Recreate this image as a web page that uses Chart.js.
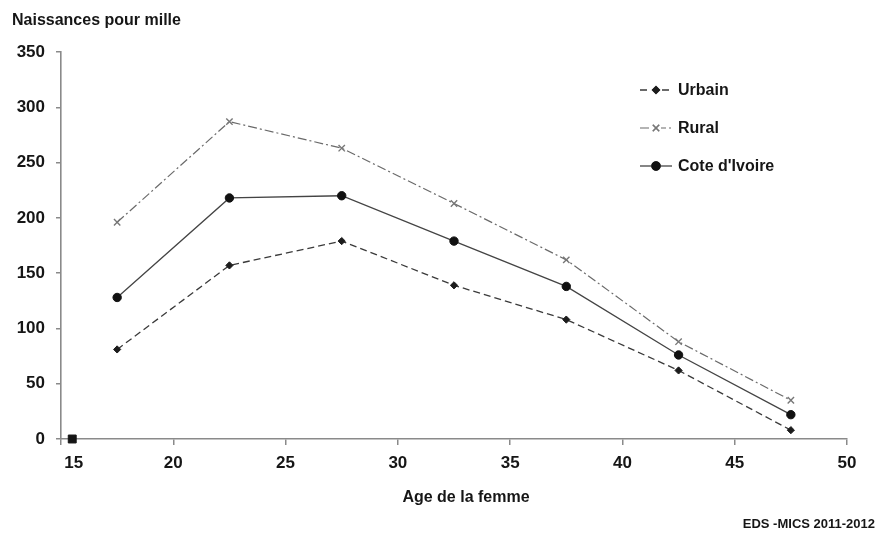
<!DOCTYPE html>
<html lang="fr">
<head>
<meta charset="utf-8">
<title>Naissances pour mille selon l'âge de la femme</title>
<script src="https://cdn.jsdelivr.net/npm/chart.js@4.4.1/dist/chart.umd.min.js"></script>
<style>
  html, body { margin: 0; padding: 0; background: #ffffff; }
  #wrap { width: 877px; height: 535px; position: relative; }
</style>
</head>
<body>
<div id="wrap"><canvas id="chart"></canvas></div>
<script>
// Age-group midpoints (15-19, 20-24, ... 45-49)
const ageMidpoints = [17.5, 22.5, 27.5, 32.5, 37.5, 42.5, 47.5];

// Age-specific fertility rates, births per 1000 women
const urbain      = [81, 157, 179, 139, 108, 62, 8];
const rural       = [196, 287, 263, 213, 162, 88, 35];
const coteIvoire  = [128, 218, 220, 179, 138, 76, 22];

// Lone square marker sitting on the x axis
const markerX = [15.5];
const markerY = [0];

// Axis settings
const xTickValues = [15, 20, 25, 30, 35, 40, 45, 50];
const yTickValues = [0, 50, 100, 150, 200, 250, 300, 350];

const seriesLabels = ['Urbain', 'Rural', "Cote d'Ivoire"];
const chartTitle = 'Naissances pour mille';
const xAxisTitle = 'Age de la femme';
const sourceNote = 'EDS -MICS 2011-2012';

const TEXT = '#161616';
const AXIS = '#8a8a8a';
const FONT = '"Liberation Sans", Arial, sans-serif';

const toPoints = (xs, ys) => xs.map((x, i) => ({ x: x, y: ys[i] }));

// Text around the plot and the legend box
const annotations = {
  id: 'annotations',
  afterDraw(chart) {
    const ctx = chart.ctx;
    ctx.save();
    ctx.fillStyle = TEXT;
    ctx.textBaseline = 'middle';

    ctx.font = 'bold 16px ' + FONT;
    ctx.textAlign = 'left';
    ctx.fillText(chartTitle, 12, 21);

    ctx.textAlign = 'center';
    ctx.fillText(xAxisTitle, 466, 498);

    ctx.font = 'bold 13px ' + FONT;
    ctx.textAlign = 'right';
    ctx.fillText(sourceNote, 875, 524);

    // legend
    const rows = [90, 128, 166];
    const x0 = 640, x1 = 672, xm = 656, xt = 678;
    chart.data.datasets.slice(0, 3).forEach((ds, i) => {
      const y = rows[i];
      ctx.save();
      ctx.strokeStyle = ds.borderColor;
      ctx.lineWidth = ds.borderWidth;
      ctx.setLineDash(ds.borderDash || []);
      ctx.beginPath();
      ctx.moveTo(x0, y);
      ctx.lineTo(x1, y);
      ctx.stroke();
      ctx.setLineDash([]);
      ctx.fillStyle = '#ffffff';
      ctx.fillRect(xm - 5, y - 5, 10, 10);
      Chart.helpers.drawPoint(ctx, {
        pointStyle: ds.pointStyle,
        radius: ds.pointRadius,
        borderWidth: ds.pointBorderWidth
      }, xm, y);
      ctx.fillStyle = ds.pointBackgroundColor;
      ctx.strokeStyle = ds.pointBorderColor;
      ctx.lineWidth = ds.pointBorderWidth;
      Chart.helpers.drawPoint(ctx, {
        pointStyle: ds.pointStyle,
        radius: ds.pointRadius,
        borderWidth: ds.pointBorderWidth
      }, xm, y);
      ctx.fill();
      ctx.restore();
      ctx.font = 'bold 16px ' + FONT;
      ctx.fillStyle = TEXT;
      ctx.textAlign = 'left';
      ctx.fillText(seriesLabels[i], xt, y + 1);
    });
    ctx.restore();
  }
};

new Chart(document.getElementById('chart'), {
  type: 'line',
  data: {
    datasets: [
      {
        label: seriesLabels[0],
        data: toPoints(ageMidpoints, urbain),
        borderColor: '#3a3a3a',
        borderWidth: 1.3,
        borderDash: [7, 4],
        pointStyle: 'rectRot',
        pointRadius: 3.6,
        pointBackgroundColor: '#1c1c1c',
        pointBorderColor: '#1c1c1c',
        pointBorderWidth: 1,
        tension: 0,
        clip: false
      },
      {
        label: seriesLabels[1],
        data: toPoints(ageMidpoints, rural),
        borderColor: '#6a6a6a',
        borderWidth: 1.2,
        borderDash: [9, 3, 2, 3],
        pointStyle: 'crossRot',
        pointRadius: 4.5,
        pointBackgroundColor: '#777777',
        pointBorderColor: '#777777',
        pointBorderWidth: 1.4,
        tension: 0,
        clip: false
      },
      {
        label: seriesLabels[2],
        data: toPoints(ageMidpoints, coteIvoire),
        borderColor: '#444444',
        borderWidth: 1.3,
        pointStyle: 'circle',
        pointRadius: 4.2,
        pointBackgroundColor: '#111111',
        pointBorderColor: '#111111',
        pointBorderWidth: 1,
        tension: 0,
        clip: false
      },
      {
        label: 'repère',
        data: toPoints(markerX, markerY),
        showLine: false,
        pointStyle: 'rect',
        pointRadius: 5.6,
        pointBackgroundColor: '#151515',
        pointBorderColor: '#151515',
        pointBorderWidth: 1,
        clip: false
      }
    ]
  },
  options: {
    responsive: true,
    maintainAspectRatio: false,
    animation: false,
    layout: { padding: { top: 52, right: 30, left: 0, bottom: 0 } },
    plugins: {
      legend: { display: false },
      tooltip: { enabled: false },
      title: { display: false }
    },
    scales: {
      x: {
        type: 'linear',
        min: xTickValues[0],
        max: xTickValues[xTickValues.length - 1],
        afterBuildTicks: (scale) => { scale.ticks = xTickValues.map(v => ({ value: v })); },
        afterFit: (scale) => { scale.height = 96; },
        ticks: {
          color: TEXT,
          font: { family: FONT, size: 17, weight: 'bold' },
          padding: 8,
          maxRotation: 0,
          autoSkip: false,
          // first label sits just right of the vertical axis
          callback: (v) => (v === xTickValues[0] ? '\u2002\u2002\u2002' + v : String(v))
        },
        grid: {
          display: true,
          drawOnChartArea: false,
          drawTicks: true,
          tickLength: 6,
          color: AXIS,
          lineWidth: 1.5
        },
        border: { display: true, color: AXIS, width: 1.6 }
      },
      y: {
        min: yTickValues[0],
        max: yTickValues[yTickValues.length - 1],
        afterBuildTicks: (scale) => { scale.ticks = yTickValues.map(v => ({ value: v })); },
        afterFit: (scale) => { scale.width = 61; },
        ticks: {
          color: TEXT,
          font: { family: FONT, size: 17, weight: 'bold' },
          padding: 11
        },
        grid: {
          display: true,
          drawOnChartArea: false,
          drawTicks: true,
          tickLength: 5,
          color: AXIS,
          lineWidth: 1.5
        },
        border: { display: true, color: AXIS, width: 1.6 }
      }
    }
  },
  plugins: [annotations]
});
</script>
</body>
</html>
